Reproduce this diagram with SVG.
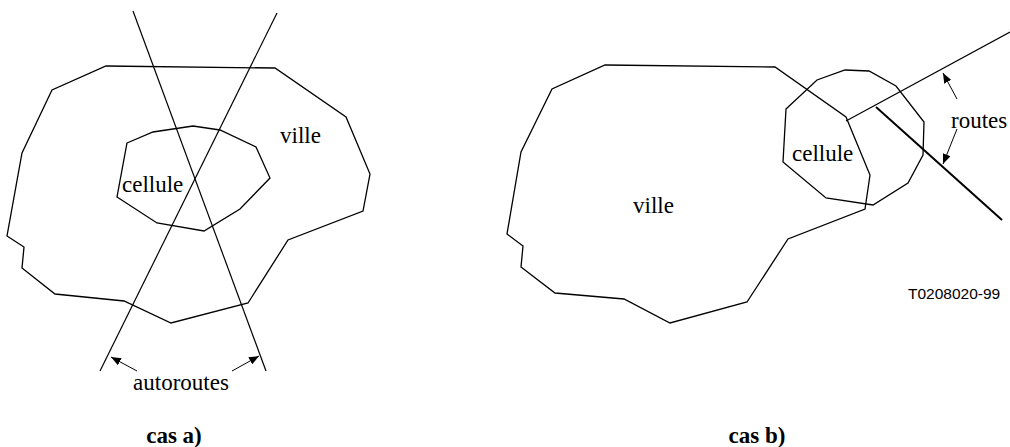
<svg xmlns="http://www.w3.org/2000/svg" width="1010" height="447" viewBox="0 0 1010 447">
<style>
.shape{fill:none;stroke:#000;stroke-width:1.3;stroke-linejoin:miter}
.road{fill:none;stroke:#000;stroke-width:1.2}
.thick{fill:none;stroke:#000;stroke-width:2}
.lbl{font-family:"Liberation Serif","Times New Roman",serif;font-size:23px;fill:#000}
.cap{font-family:"Liberation Serif","Times New Roman",serif;font-size:23px;font-weight:bold;fill:#000}
.code{font-family:"Liberation Sans",Arial,sans-serif;font-size:15.5px;fill:#000}
.lead{fill:none;stroke:#000;stroke-width:1}
</style>
<defs>
<marker id="ah" viewBox="0 0 10 8" refX="10" refY="4" markerWidth="10" markerHeight="8" markerUnits="userSpaceOnUse" orient="auto">
<path d="M0,0 L10,4 L0,8 Z" fill="#000"/>
</marker>
</defs>
<g id="case-a">
<g id="ville-a">
<polygon class="shape" points="106,66 275,68 346,117 370,174 363,211 288,240 248,303 171,323 124,301 55,294 22,268 24,247 7,236 22,153 52,90"/>
<text class="lbl" x="280" y="143">ville</text>
</g>
<g id="cellule-a">
<polygon class="shape" points="127,143 153,132 193,126 220,130 256,147 270,178 240,209 204,231 157,223 117,197"/>
<text class="lbl" x="122" y="192">cellule</text>
</g>
<g id="autoroutes-a">
<text class="lbl" x="181" y="390" text-anchor="middle">autoroutes</text>
</g>
<text class="cap" x="174" y="443" text-anchor="middle">cas a)</text>
</g>
<g id="case-b">
<g id="ville-b">
<polygon class="shape" points="605,65 775,67 846,117 870,175 865,209 788,239 747,302 670,323 624,299 555,293 521,267 523,246 507,234 521,152 552,89"/>
<text class="lbl" x="633" y="213">ville</text>
</g>
<g id="cellule-b">
<polygon class="shape" points="786,109 817,80 845,70 869,71 896,86 924,122 923,155 908,183 873,205 826,198 783,162"/>
<text class="lbl" x="792" y="161">cellule</text>
</g>
<g id="routes-b">
<text class="lbl" x="951" y="128">routes</text>
</g>
<text class="code" x="908" y="299">T0208020-99</text>
<text class="cap" x="757" y="443" text-anchor="middle">cas b)</text>
</g>
<g id="connectors">
<line class="road" x1="133" y1="11" x2="266" y2="371"/>
<line class="road" x1="277" y1="13" x2="100" y2="371"/>
<line class="lead" x1="137" y1="371" x2="111" y2="357" marker-end="url(#ah)"/>
<line class="lead" x1="232" y1="371" x2="259" y2="356" marker-end="url(#ah)"/>
<line class="road" x1="846" y1="121" x2="1010" y2="32"/>
<line class="thick" x1="876" y1="107" x2="1002" y2="220"/>
<line class="lead" x1="957" y1="99" x2="943" y2="73" marker-end="url(#ah)"/>
<line class="lead" x1="957" y1="129" x2="943" y2="164" marker-end="url(#ah)"/>
</g>
</svg>
